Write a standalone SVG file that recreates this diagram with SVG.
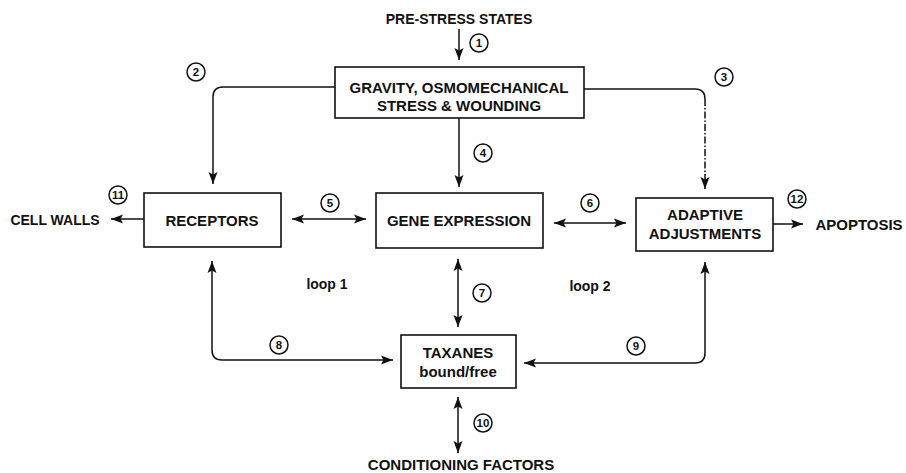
<svg xmlns="http://www.w3.org/2000/svg" width="906" height="473" viewBox="0 0 906 473">
<style>
  .box { fill: #fff; stroke: #111; stroke-width: 1.6; }
  .t { font-family: "Liberation Sans", Arial, sans-serif; font-weight: bold; fill: #111; text-anchor: middle; }
  .lbl { font-size: 14px; }
  .nt { font-size: 15px; }
  .big { font-size: 15px; }
  .c circle { fill: #fff; stroke: #111; stroke-width: 1.5; }
  .c text { font-family: "Liberation Sans", Arial, sans-serif; font-weight: bold; font-size: 11.5px; fill: #111; text-anchor: middle; }
  .conn path { fill: none; stroke: #111; stroke-width: 1.5; }
  .one { marker-end: url(#ah); }
  .two { marker-start: url(#ah); marker-end: url(#ah); }
  .dd { stroke-dasharray: 7 2 1.5 2; }
</style>
<defs>
  <marker id="ah" markerUnits="userSpaceOnUse" markerWidth="13" markerHeight="11" refX="12" refY="5.5" orient="auto-start-reverse">
    <path d="M0,1 L12,5.5 L0,10 L2.5,5.5 z" fill="#111"/>
  </marker>
</defs>

<g id="connectors" class="conn">
  <path class="one" d="M459,29 V60"/>
  <path class="one" d="M335,87 H223 Q213,87 213,97 V184"/>
  <path d="M584,89 H695 Q705,89 705,99"/>
  <path class="one dd" d="M705,99 V189"/>
  <path class="one" d="M459,118 V187"/>
  <path class="two" d="M292,219 H366"/>
  <path class="two" d="M554,223 H626"/>
  <path class="two" d="M458,259 V327"/>
  <path class="two" d="M212,261 V350 Q212,360 222,360 H393"/>
  <path class="two" d="M524,363 H695 Q705,363 705,353 V262"/>
  <path class="two" d="M458,397 V453"/>
  <path class="one" d="M144,219 H111"/>
  <path class="one" d="M773,224 H803"/>
</g>

<g id="pre-stress">
  <text class="t lbl" x="459" y="24">PRE-STRESS STATES</text>
</g>

<g id="gravity">
  <rect class="box" x="335" y="67" width="249" height="51"/>
  <text class="t nt" x="459" y="93">GRAVITY, OSMOMECHANICAL</text>
  <text class="t nt" x="459" y="111">STRESS &amp; WOUNDING</text>
</g>

<g id="receptors">
  <rect class="box" x="144" y="193" width="137" height="54"/>
  <text class="t nt" x="212" y="226">RECEPTORS</text>
</g>

<g id="gene-expression">
  <rect class="box" x="376" y="193" width="167" height="55"/>
  <text class="t nt" x="459" y="226">GENE EXPRESSION</text>
</g>

<g id="adaptive">
  <rect class="box" x="636" y="198" width="137" height="53"/>
  <text class="t nt" x="705" y="220">ADAPTIVE</text>
  <text class="t nt" x="705" y="239">ADJUSTMENTS</text>
</g>

<g id="taxanes">
  <rect class="box" x="401" y="335" width="115" height="53"/>
  <text class="t nt" x="458" y="358">TAXANES</text>
  <text class="t nt" x="458" y="377">bound/free</text>
</g>

<g id="cell-walls">
  <text class="t lbl" x="55" y="225">CELL WALLS</text>
</g>

<g id="apoptosis">
  <text class="t big" x="859" y="230">APOPTOSIS</text>
</g>

<g id="conditioning">
  <text class="t big" x="461" y="470">CONDITIONING FACTORS</text>
</g>

<g id="loops">
  <text class="t lbl" x="327" y="289">loop 1</text>
  <text class="t lbl" x="590" y="291">loop 2</text>
</g>

<g id="numbers" class="c">
  <circle cx="479" cy="43" r="9"/><text x="479" y="47">1</text>
  <circle cx="196" cy="72" r="9"/><text x="196" y="76">2</text>
  <circle cx="724" cy="77" r="9"/><text x="724" y="81">3</text>
  <circle cx="483" cy="153" r="9"/><text x="483" y="157">4</text>
  <circle cx="330" cy="203" r="9"/><text x="330" y="207">5</text>
  <circle cx="590" cy="203" r="9"/><text x="590" y="207">6</text>
  <circle cx="482" cy="293" r="9"/><text x="482" y="297">7</text>
  <circle cx="279" cy="345" r="9"/><text x="279" y="349">8</text>
  <circle cx="636" cy="346" r="9"/><text x="636" y="350">9</text>
  <circle cx="483" cy="423" r="9"/><text x="483" y="427">10</text>
  <circle cx="118" cy="195" r="9"/><text x="118" y="199">11</text>
  <circle cx="797" cy="199" r="9"/><text x="797" y="203">12</text>
</g>
</svg>
